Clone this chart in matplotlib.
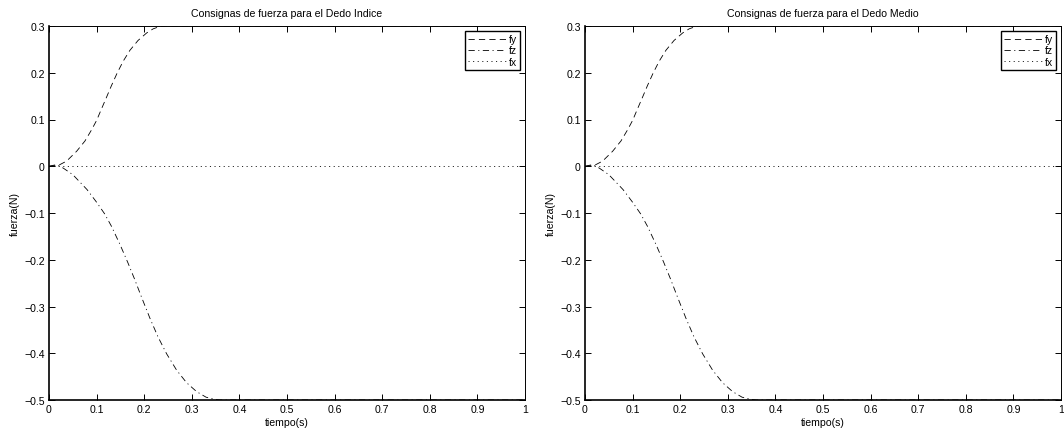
import numpy as np
import matplotlib
matplotlib.use("Agg")
import matplotlib.pyplot as plt

# Force set-points (same profile for both fingers)
t_fy = [0.0, 0.02, 0.037, 0.058, 0.0755, 0.0895, 0.10, 0.11, 0.121, 0.131, 0.143,
        0.156, 0.17, 0.187, 0.205, 0.219, 0.233, 0.245, 1.0]
fy = [0.0, 0.002, 0.011, 0.032, 0.054, 0.078, 0.098, 0.122, 0.148, 0.172, 0.199,
      0.225, 0.248, 0.269, 0.285, 0.294, 0.299, 0.30, 0.30]

t_fz = [0.0, 0.016, 0.03, 0.05, 0.066, 0.08, 0.10, 0.117, 0.131, 0.149, 0.166, 0.18,
        0.194, 0.212, 0.229, 0.247, 0.268, 0.289, 0.31, 0.33, 0.35, 0.36, 1.0]
fz = [0.0, 0.0035, -0.004, -0.018, -0.035, -0.05, -0.077, -0.102, -0.128, -0.167, -0.207, -0.242,
      -0.279, -0.325, -0.365, -0.401, -0.436, -0.463, -0.482, -0.494, -0.499, -0.5, -0.5]

t_fx = [0.0, 1.0]
fx = [0.0, 0.0]

titles = ["Consignas de fuerza para el Dedo Indice",
          "Consignas de fuerza para el Dedo Medio"]
xticks = [0, 0.1, 0.2, 0.3, 0.4, 0.5, 0.6, 0.7, 0.8, 0.9, 1]
xticklabels = ["0", "0.1", "0.2", "0.3", "0.4", "0.5", "0.6", "0.7", "0.8", "0.9", "1"]
yticks = [-0.5, -0.4, -0.3, -0.2, -0.1, 0, 0.1, 0.2, 0.3]
yticklabels = ["\u22120.5", "\u22120.4", "\u22120.3", "\u22120.2", "\u22120.1", "0", "0.1", "0.2", "0.3"]

plt.rcParams['font.family'] = ['Liberation Sans', 'DejaVu Sans']
plt.rcParams['font.size'] = 7.6
plt.rcParams['lines.scale_dashes'] = False

fig = plt.figure(figsize=(10.64, 4.35), dpi=100)
positions = [[49 / 1064, 34 / 435, 476 / 1064, 374 / 435],
             [585 / 1064, 34 / 435, 476 / 1064, 374 / 435]]

for pos, title in zip(positions, titles):
    ax = fig.add_axes(pos)
    ax.plot(t_fy, fy, color='black', lw=0.6, dashes=(4.5, 3), label='fy')
    ax.plot(t_fz, fz, color='black', lw=0.6, dashes=(4.5, 2.5, 0.8, 2.5), label='fz')
    ax.plot(t_fx, fx, color='black', lw=0.6, dashes=(0.8, 2.5), label='fx')

    ax.set_xlim(0, 1)
    ax.set_ylim(-0.5, 0.3)
    ax.set_xticks(xticks)
    ax.set_xticklabels(xticklabels)
    ax.set_yticks(yticks)
    ax.set_yticklabels(yticklabels)
    ax.tick_params(direction='in', top=True, right=True, length=4, width=0.7,
                   labelsize=7.6, pad=3)
    for side in ['top', 'right']:
        ax.spines[side].set_linewidth(0.7)
    for side in ['left', 'bottom']:
        ax.spines[side].set_linewidth(1.2)

    ax.set_title(title, fontsize=7.6, pad=7)
    ax.set_xlabel('tiempo(s)', fontsize=7.6, labelpad=2)
    ax.set_ylabel('fuerza(N)', fontsize=7.6, labelpad=3)

    leg = ax.legend(loc='upper right', fontsize=7.6, frameon=True, fancybox=False,
                    handlelength=3.6, handletextpad=0.2, borderpad=0.3,
                    labelspacing=0.1, borderaxespad=0.5)
    leg.get_frame().set_edgecolor('black')
    leg.get_frame().set_linewidth(1.0)
    leg.get_frame().set_alpha(1)

fig.savefig('out.png', dpi=100)
